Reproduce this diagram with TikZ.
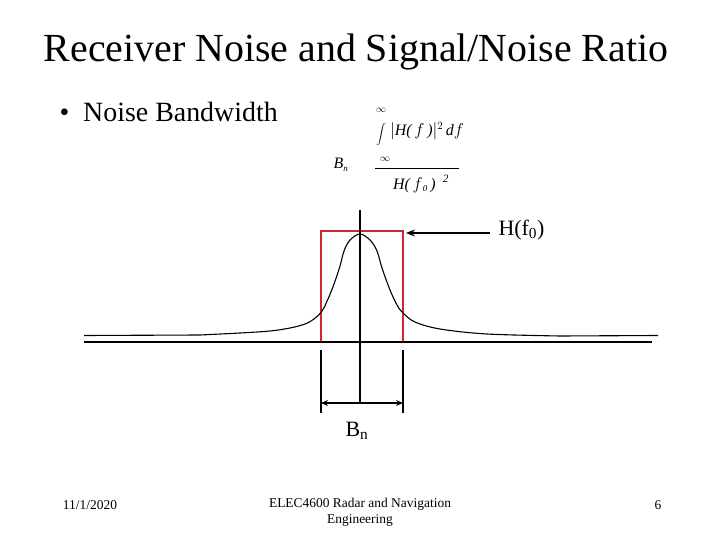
\documentclass[tikz,border=0pt]{standalone}
\usepackage{fontspec}
\setmainfont{Liberation Serif}
\usepackage{xcolor}
\usetikzlibrary{arrows.meta, positioning}

\definecolor{bandred}{RGB}{205,40,45}

\begin{document}
\begin{tikzpicture}[
  x=1bp, y=-1bp,
  title/.style={font=\fontsize{40}{44}\selectfont},
  bullet/.style={font=\fontsize{28}{32}\selectfont, anchor=west},
  formula/.style={font=\fontsize{16}{18}\selectfont\itshape, inner sep=0pt},
  label/.style={font=\fontsize{22}{26}\selectfont},
  footer/.style={font=\fontsize{13.5}{16}\selectfont, align=center},
  axis/.style={draw, line width=1.1bp},
  band/.style={draw=bandred, line width=1.8bp},
  line/.style={draw, line width=2.4bp, -{Stealth[length=9bp, width=7bp]}}
]
  \useasboundingbox (0,0) rectangle (720,540);

  \node [title] (heading) at (356,52) {Receiver Noise and Signal/Noise Ratio};
  \node [bullet] (item) at (56,112) {\textbullet\ \ Noise Bandwidth};

  % noise bandwidth formula
  \node [formula] (bn) at (341,165) {B\textsubscript{\fontsize{9}{9}\selectfont n}};
  \node [formula, font=\fontsize{10}{10}\selectfont] (inf1) at (381,110) {$\infty$};
  \node [formula, font=\fontsize{13}{15}\selectfont] (intg) at (381,135) {$\displaystyle\int$};
  \node [formula, font=\fontsize{10}{10}\selectfont] (inf2) at (385,159) {$\infty$};
  \node [formula, anchor=west] (num) at (390,131) {$|$H(\,$f$\,)$|^{2}$\,d$f$};
  \node [formula, anchor=west] (den) at (393,184) {H(\,$f$\textsubscript{\fontsize{9}{9}\selectfont 0}\,)\hspace{7bp}\textsuperscript{2}};
  \coordinate (fracl) at (375,168);
  \coordinate (fracr) at (459,168);
  \draw (fracl) -- (fracr);

  % equivalent rectangle
  \coordinate (rl) at (321,341);
  \coordinate (rr) at (403,341);
  \coordinate (rtl) at (321,231);
  \coordinate (rtr) at (403,231);
  \draw [band] (rl) -- (rtl) -- (rtr) -- (rr);
  \coordinate (rtop) at (406,233);

  % axes
  \coordinate (ax0) at (84,342);
  \coordinate (ax1) at (652,342);
  \coordinate (ctop) at (360,210);
  \coordinate (cbot) at (360,403);
  \draw [axis] (ax0) -- (ax1);
  \draw [axis] (ctop) -- (cbot);

  % response curve
  \draw [axis] (84,335.5) -- (200,335)
    plot [smooth, tension=0.55] coordinates {(200,335) (240,333) (270,331) (290,328) (305,324) (314,319) (322,311) (328,299) (334,284) (340,266) (344,251) (350,240) (360,234) (370,240) (377,251) (382,268) (390,290) (397,305) (403,313) (415,322) (440,329) (487,334) (560,336)}
    -- (658,335.5);

  % bandwidth ticks
  \coordinate (tl) at (321,350);
  \coordinate (tr) at (403,350);
  \draw [axis] (tl) -- +(0,63);
  \draw [axis] (tr) -- +(0,63);
  \coordinate (al) at (321,403);
  \coordinate (ar) at (403,403);
  \draw [line, {Stealth[length=7bp, width=6bp]}-{Stealth[length=7bp, width=6bp]}] (al) -- (ar);
  \node [label] (bnlab) at (357,431) {B\textsubscript{n}};

  % peak label
  \node [label, anchor=west] (hf0) at (495,230) {H(f\textsubscript{0})};
  \draw [line] (hf0.west) ++(-5,3) -- (rtop);

  \node [footer] (date) at (90,505) {11/1/2020};
  \node [footer, anchor=north] (course) at (360,495) {ELEC4600 Radar and Navigation\\Engineering};
  \node [footer] (page) at (658,505) {6};
\end{tikzpicture}
\end{document}
